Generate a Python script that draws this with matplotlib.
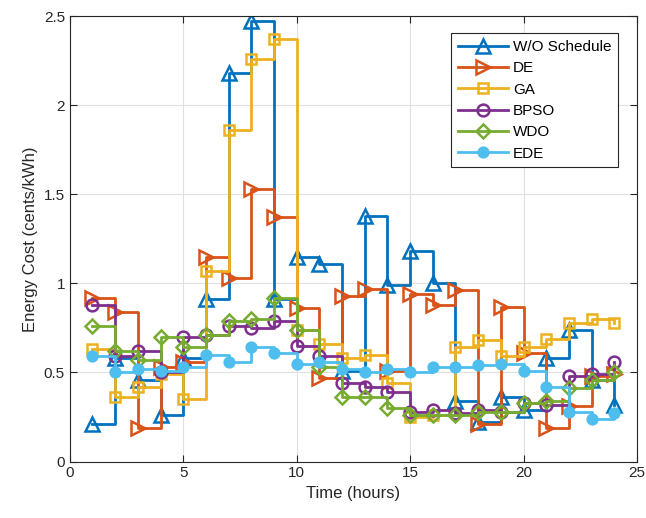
import numpy as np
import matplotlib
matplotlib.use("Agg")
import matplotlib.pyplot as plt
from matplotlib.ticker import FuncFormatter

plt.rcParams['font.family'] = ['Liberation Sans', 'DejaVu Sans']

# hourly cost per scheduling scheme
hours = np.arange(1, 25)
wo_schedule = [0.21, 0.58, 0.46, 0.26, 0.58, 0.91, 2.18, 2.47, 0.91, 1.15, 1.11, 0.51,
               1.38, 0.99, 1.18, 1.00, 0.34, 0.22, 0.36, 0.29, 0.58, 0.74, 0.46, 0.32]
de = [0.92, 0.84, 0.19, 0.53, 0.56, 1.15, 1.03, 1.53, 1.37, 0.86, 0.47, 0.93,
      0.97, 0.51, 0.94, 0.88, 0.96, 0.21, 0.87, 0.61, 0.19, 0.31, 0.48, 0.49]
ga = [0.63, 0.36, 0.42, 0.49, 0.35, 1.07, 1.86, 2.26, 2.37, 0.74, 0.66, 0.58,
      0.60, 0.44, 0.25, 0.26, 0.64, 0.68, 0.59, 0.64, 0.69, 0.78, 0.80, 0.78]
bpso = [0.88, 0.59, 0.62, 0.50, 0.70, 0.71, 0.76, 0.75, 0.79, 0.65, 0.59, 0.44,
        0.42, 0.39, 0.28, 0.29, 0.27, 0.29, 0.28, 0.33, 0.32, 0.48, 0.49, 0.56]
wdo = [0.76, 0.62, 0.57, 0.70, 0.64, 0.71, 0.79, 0.80, 0.92, 0.74, 0.53, 0.36,
       0.36, 0.30, 0.26, 0.26, 0.26, 0.28, 0.28, 0.33, 0.34, 0.41, 0.46, 0.50]
ede = [0.59, 0.50, 0.52, 0.51, 0.53, 0.60, 0.56, 0.64, 0.61, 0.55, 0.56, 0.52,
       0.50, 0.52, 0.50, 0.53, 0.53, 0.54, 0.55, 0.51, 0.42, 0.28, 0.24, 0.27]

series = [
    ("W/O Schedule", wo_schedule, '#0072BD', '^', 9.5, 'none'),
    ("DE", de, '#D95319', '>', 9.5, 'none'),
    ("GA", ga, '#EDB120', 's', 7, 'none'),
    ("BPSO", bpso, '#7E2F8E', 'o', 8.5, 'none'),
    ("WDO", wdo, '#77AC30', 'D', 7, 'none'),
    ("EDE", ede, '#4DBEEE', 'o', 7, '#4DBEEE'),
]

fig = plt.figure(figsize=(6.46, 5.18), dpi=100)
ax = fig.add_axes([0.108, 0.109, 0.878, 0.86])

for name, vals, color, mk, ms, fc in series:
    ax.step(hours, vals, where='post', color=color, lw=2, marker=mk, ms=ms,
            mfc=fc, mec=color, mew=1.8, label=name)

ax.set_xlim(0, 25)
ax.set_ylim(0, 2.5)
ax.set_xticks(np.arange(0, 26, 5))
ax.set_yticks(np.arange(0, 2.51, 0.5))
ax.yaxis.set_major_formatter(FuncFormatter(lambda v, p: f"{v:g}"))
ax.grid(True, color='#e0e0e0', lw=0.8)
ax.set_axisbelow(True)
ax.tick_params(direction='in', top=True, right=True, labelsize=11, length=5,
               color='#262626', labelcolor='#262626')
for s in ax.spines.values():
    s.set_color('#262626')
    s.set_linewidth(0.8)

ax.set_xlabel('Time (hours)', fontsize=12, color='#262626')
ax.set_ylabel('Energy Cost (cents/kWh)', fontsize=12, color='#262626')

# legend box in the upper right corner
leg = ax.legend(loc='upper right', bbox_to_anchor=(0.967, 0.962), borderaxespad=0,
                fontsize=11, handlelength=3.3, fancybox=False, framealpha=1,
                borderpad=0.45, labelspacing=0.48, handletextpad=0.3)
leg.get_frame().set_edgecolor('#262626')
leg.get_frame().set_linewidth(0.8)

fig.savefig('out.png', dpi=100)
